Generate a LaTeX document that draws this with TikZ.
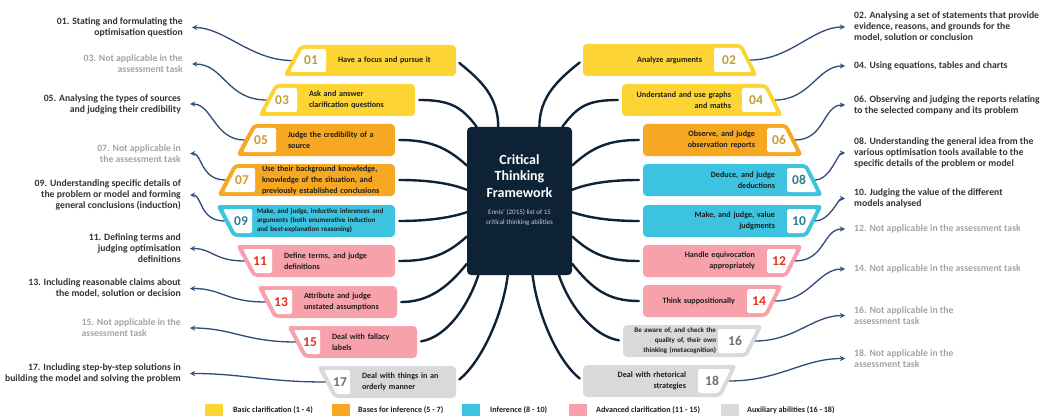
\documentclass[tikz,border=0pt]{standalone}
\usepackage{fontspec}
\setmainfont{Carlito}
\usetikzlibrary{arrows}

\definecolor{navy}{HTML}{0E2236}
\definecolor{arrowblue}{HTML}{2C4A7A}
\definecolor{cbasic}{HTML}{FCD535}
\definecolor{cbases}{HTML}{F7A823}
\definecolor{cinfer}{HTML}{3CC3E0}
\definecolor{cadv}{HTML}{F7A2AA}
\definecolor{caux}{HTML}{D9D9D9}
\definecolor{nbasic}{HTML}{BFA033}
\definecolor{nbases}{HTML}{CF9A2E}
\definecolor{ninfer}{HTML}{2B7E8E}
\definecolor{nadv}{HTML}{E2321F}
\definecolor{naux}{HTML}{6E6E6E}
\definecolor{txtdark}{HTML}{1E1E1E}
\definecolor{lbldark}{HTML}{333333}
\definecolor{lblgray}{HTML}{A3A3A3}

\begin{document}
\begin{tikzpicture}[x=1pt,y=-1pt,
    spoke/.style={draw=navy,line width=2.4pt,line cap=round,shorten <=4pt},
    pointer/.style={draw=arrowblue,line width=1.3pt,-stealth,shorten >=8pt},
    lbody/.style={font=\fontsize{8.1}{10.5}\selectfont\bfseries,text=txtdark,align=left,
        inner xsep=12pt,inner ysep=0pt,minimum height=31pt},
    rbody/.style={lbody,align=right},
    num/.style={font=\fontsize{13.5}{13.5}\selectfont\bfseries,inner sep=0pt},
    lbl/.style={font=\fontsize{9.7}{11}\selectfont\bfseries,text=lbldark,inner sep=1pt},
    na/.style={lbl,text=lblgray},
    key/.style={minimum width=18pt,minimum height=12pt,inner sep=0pt},
    keytext/.style={font=\fontsize{8.1}{9}\selectfont\bfseries,text=txtdark,anchor=west,inner sep=0pt}]
    \useasboundingbox (0,0) rectangle (1046,417);

    % Centre
    \node [fill=navy,rounded corners=4pt,minimum width=105pt,minimum height=148pt] (ctf) at (519.5,201) {};
    \node [font=\fontsize{14}{16.5}\selectfont\bfseries,text=white,align=center] (ttl) at (519.5,176)
        {Critical\\Thinking\\Framework};
    \node [font=\fontsize{7}{10}\selectfont,text=navy!25,align=center] (sub) at (519.5,218)
        {Ennis' (2015) list of 15\\critical thinking abilities};

    % Left boxes
    \path [fill=cbasic,rounded corners=4pt] (283,76) -- coordinate (e01) (300,45) -- (456,45) -- (456,76) -- cycle;
    \path [fill=white,rounded corners=1.5pt] (302.5,49) -- (326,49) -- (326,72) -- (290,72) -- cycle;
    \node [num,text=nbasic] (n01) at (311,60.5) {01};
    \node [lbody,text width=106pt] (b01) at (391,60.5) {Have a focus and pursue it};

    \path [fill=cbasic,rounded corners=4pt] (258,116) -- coordinate (e03) (275,84) -- (415,84) -- (415,116) -- cycle;
    \path [fill=white,rounded corners=1.5pt] (277.5,88) -- (297,88) -- (297,112) -- (265,112) -- cycle;
    \node [num,text=nbasic] (n03) at (282,100) {03};
    \node [lbody,text width=94pt] (b03) at (356,100) {Ask and answer\\clarification questions};

    \path [fill=cbases,rounded corners=4pt] (236,156) -- coordinate (e05) (253,124) -- (395,124) -- (395,156) -- cycle;
    \path [fill=white,rounded corners=1.5pt] (255.5,128) -- (276,128) -- (276,152) -- (243,152) -- cycle;
    \node [num,text=nbases] (n05) at (261,140) {05};
    \node [lbody,text width=95pt] (b05) at (335.5,140) {Judge the credibility of a\\source};

    \path [fill=cbases,rounded corners=4pt] (217,196) -- coordinate (e07) (234,164) -- (395,164) -- (395,196) -- cycle;
    \path [fill=white,rounded corners=1.5pt] (236.5,168) -- (255,168) -- (255,192) -- (224,192) -- cycle;
    \node [num,text=nbases] (n07) at (242,180) {07};
    \node [lbody,text width=126pt,inner xsep=7pt,font=\fontsize{8.1}{11}\selectfont\bfseries] (b07) at (325,180)
        {Use their background knowledge,\\knowledge of the situation, and\\previously established conclusions};

    \path [fill=cinfer,rounded corners=4pt] (216,205) -- coordinate (e09) (233,237) -- (395,237) -- (395,205) -- cycle;
    \path [fill=white,rounded corners=1.5pt] (223,209) -- (252,209) -- (252,233) -- (235.5,233) -- cycle;
    \node [num,text=ninfer] (n09) at (241,221) {09};
    \node [lbody,text width=133pt,inner xsep=5pt,font=\fontsize{7}{9}\selectfont\bfseries] (b09) at (323.5,221)
        {Make, and judge, inductive inferences and\\arguments (both enumerative induction\\and best-explanation reasoning)};

    \path [fill=cadv,rounded corners=4pt] (236,245) -- coordinate (e11) (253,277) -- (395,277) -- (395,245) -- cycle;
    \path [fill=white,rounded corners=1.5pt] (243,249) -- (272,249) -- (272,273) -- (255.5,273) -- cycle;
    \node [num,text=nadv] (n11) at (260,261) {11};
    \node [lbody,text width=99pt] (b11) at (333.5,261) {Define terms, and judge\\definitions};

    \path [fill=cadv,rounded corners=4pt] (257,286) -- coordinate (e13) (274,318) -- (397,318) -- (397,286) -- cycle;
    \path [fill=white,rounded corners=1.5pt] (264,290) -- (292,290) -- (292,314) -- (276.5,314) -- cycle;
    \node [num,text=nadv] (n13) at (281,302) {13};
    \node [lbody,text width=81pt] (b13) at (344.5,302) {Attribute and judge\\unstated assumptions};

    \path [fill=cadv,rounded corners=4pt] (287,326) -- coordinate (e15) (304,358) -- (417,358) -- (417,326) -- cycle;
    \path [fill=white,rounded corners=1.5pt] (294,330) -- (320,330) -- (320,354) -- (306.5,354) -- cycle;
    \node [num,text=nadv] (n15) at (310,342) {15};
    \node [lbody,text width=73pt] (b15) at (368.5,342) {Deal with fallacy\\labels};

    \path [fill=caux,rounded corners=4pt] (317,366) -- coordinate (e17) (334,398) -- (456,398) -- (456,366) -- cycle;
    \path [fill=white,rounded corners=1.5pt] (324,370) -- (350,370) -- (350,394) -- (336.5,394) -- cycle;
    \node [num,text=naux] (n17) at (340,382) {17};
    \node [lbody,text width=82pt] (b17) at (403,382) {Deal with things in an\\orderly manner};

    % Right boxes
    \path [fill=cbasic,rounded corners=4pt] (583,44) -- (742,44) -- coordinate (e02) (758,76) -- (583,76) -- cycle;
    \path [fill=white,rounded corners=1.5pt] (714,48) -- (739.5,48) -- (751.5,72) -- (714,72) -- cycle;
    \node [num,text=nbasic] (n02) at (729,60) {02};
    \node [rbody,text width=107pt] (b02) at (648.5,60) {Analyze arguments};

    \path [fill=cbasic,rounded corners=4pt] (622,84) -- (767,84) -- coordinate (e04) (783,116) -- (622,116) -- cycle;
    \path [fill=white,rounded corners=1.5pt] (742,88) -- (764.5,88) -- (776.5,112) -- (742,112) -- cycle;
    \node [num,text=nbasic] (n04) at (756,100) {04};
    \node [rbody,text width=98pt,inner xsep=11pt] (b04) at (682,100) {Understand and use graphs\\and maths};

    \path [fill=cbases,rounded corners=4pt] (643,124) -- (787,124) -- coordinate (e06) (803,156) -- (643,156) -- cycle;
    \path [fill=white,rounded corners=1.5pt] (767,128) -- (784.5,128) -- (796.5,152) -- (767,152) -- cycle;
    \node [num,text=nbases] (n06) at (779,140) {06};
    \node [rbody,text width=100pt] (b06) at (705,140) {Observe, and judge\\observation reports};

    \path [fill=cinfer,rounded corners=4pt] (643,164) -- (807,164) -- coordinate (e08) (823,196) -- (643,196) -- cycle;
    \path [fill=white,rounded corners=1.5pt] (787,168) -- (804.5,168) -- (816.5,192) -- (787,192) -- cycle;
    \node [num,text=ninfer] (n08) at (799,180) {08};
    \node [rbody,text width=120pt] (b08) at (715,180) {Deduce, and judge\\deductions};

    \path [fill=cinfer,rounded corners=4pt] (643,237) -- (807,237) -- coordinate (e10) (823,205) -- (643,205) -- cycle;
    \path [fill=white,rounded corners=1.5pt] (787,209) -- (816.5,209) -- (804.5,233) -- (787,233) -- cycle;
    \node [num,text=ninfer] (n10) at (799,221) {10};
    \node [rbody,text width=120pt] (b10) at (715,221) {Make, and judge, value\\judgments};

    \path [fill=cadv,rounded corners=4pt] (643,277) -- (787,277) -- coordinate (e12) (803,245) -- (643,245) -- cycle;
    \path [fill=white,rounded corners=1.5pt] (767,249) -- (796.5,249) -- (784.5,273) -- (767,273) -- cycle;
    \node [num,text=nadv] (n12) at (779,261) {12};
    \node [rbody,text width=100pt] (b12) at (705,261) {Handle equivocation\\appropriately};

    \path [fill=cadv,rounded corners=4pt] (643,317) -- (767,317) -- coordinate (e14) (783,285) -- (643,285) -- cycle;
    \path [fill=white,rounded corners=1.5pt] (747,289) -- (776.5,289) -- (764.5,313) -- (747,313) -- cycle;
    \node [num,text=nadv] (n14) at (759,301) {14};
    \node [rbody,text width=80pt] (b14) at (695,301) {Think suppositionally};

    \path [fill=caux,rounded corners=4pt] (623,357) -- (747,357) -- coordinate (e16) (763,325) -- (623,325) -- cycle;
    \path [fill=white,rounded corners=1.5pt] (718,329) -- (756.5,329) -- (744.5,353) -- (718,353) -- cycle;
    \node [num,text=naux] (n16) at (735,341) {16};
    \node [rbody,text width=91pt,inner xsep=2pt,font=\fontsize{7}{10}\selectfont\bfseries] (b16) at (670.5,341)
        {Be aware of, and check the\\quality of, their own\\thinking (metacognition)};

    \path [fill=caux,rounded corners=4pt] (583,397) -- (721,397) -- coordinate (e18) (737,365) -- (583,365) -- cycle;
    \path [fill=white,rounded corners=1.5pt] (698,369) -- (730.5,369) -- (718.5,393) -- (698,393) -- cycle;
    \node [num,text=naux] (n18) at (712,381) {18};
    \node [rbody,text width=91pt] (b18) at (640.5,381) {Deal with rhetorical\\strategies};

    % Spokes
    \draw [spoke] (b01.east) .. controls +(25,20) and +(0,-30) .. (ctf.106);
    \draw [spoke] (b03.east) .. controls +(35,0) and +(-15,-20) .. (ctf.120);
    \draw [spoke] (b05.east) .. controls +(35,0) and +(-20,-18) .. (ctf.146);
    \draw [spoke] (b07.east) .. controls +(35,0) and +(-15,-6) .. (ctf.168);
    \draw [spoke] (b09.east) .. controls +(35,0) and +(-15,5) .. (ctf.192);
    \draw [spoke] (b11.east) .. controls +(35,0) and +(-20,18) .. (ctf.214);
    \draw [spoke] (b13.east) .. controls +(30,0) and +(-20,25) .. (ctf.230);
    \draw [spoke] (b15.east) .. controls +(30,-5) and +(-10,30) .. (ctf.241);
    \draw [spoke] (b17.east) .. controls +(25,-20) and +(-5,40) .. (ctf.261);
    \draw [spoke] (b02.west) .. controls +(-25,20) and +(0,-30) .. (ctf.75);
    \draw [spoke] (b04.west) .. controls +(-35,0) and +(15,-20) .. (ctf.60);
    \draw [spoke] (b06.west) .. controls +(-35,0) and +(20,-18) .. (ctf.34);
    \draw [spoke] (b08.west) .. controls +(-35,0) and +(15,-6) .. (ctf.12);
    \draw [spoke] (b10.west) .. controls +(-35,0) and +(15,5) .. (ctf.348);
    \draw [spoke] (b12.west) .. controls +(-35,0) and +(20,18) .. (ctf.326);
    \draw [spoke] (b14.west) .. controls +(-35,0) and +(20,25) .. (ctf.310);
    \draw [spoke] (b16.west) .. controls +(-30,-5) and +(10,30) .. (ctf.298);
    \draw [spoke] (b18.west) .. controls +(-25,-20) and +(5,40) .. (ctf.280);

    % Left labels
    \node [lbl,anchor=east,align=right] (l01) at (184,27.5) {01. Stating and formulating the\\optimisation question};
    \node [na,anchor=east,align=right] (l03) at (184,64) {03. Not applicable in the\\assessment task};
    \node [lbl,anchor=east,align=right] (l05) at (182,104) {05. Analysing the types of sources\\and judging their credibility};
    \node [na,anchor=east,align=right] (l07) at (182,153.5) {07. Not applicable in\\the assessment task};
    \node [lbl,anchor=east,align=right] (l09) at (182,195)
        {09. Understanding specific details of\\the problem or model and forming\\general conclusions (induction)};
    \node [lbl,anchor=east,align=right] (l11) at (182,248.5) {11. Defining terms and\\judging optimisation\\definitions};
    \node [lbl,anchor=east,align=right] (l13) at (182,288.5)
        {13. Including reasonable claims about\\the model, solution or decision};
    \node [na,anchor=east,align=left] (l15) at (182,328) {15. Not applicable in the\\assessment task};
    \node [lbl,anchor=east,align=right] (l17) at (182,373.5)
        {17. Including step-by-step solutions in\\building the model and solving the problem};

    % Right labels
    \node [lbl,anchor=west,align=left] (l02) at (853,27)
        {02. Analysing a set of statements that provide\\evidence, reasons, and grounds for the\\model, solution or conclusion};
    \node [lbl,anchor=west,align=left] (l04) at (853,66) {04. Using equations, tables and charts};
    \node [lbl,anchor=west,align=left] (l06) at (853,105)
        {06. Observing and judging the reports relating\\to the selected company and its problem};
    \node [lbl,anchor=west,align=left] (l08) at (853,153)
        {08. Understanding the general idea from the\\various optimisation tools available to the\\specific details of the problem or model};
    \node [lbl,anchor=west,align=left] (l10) at (853,198.5) {10. Judging the value of the different\\models analysed};
    \node [na,anchor=west,align=left] (l12) at (853,229) {12. Not applicable in the assessment task};
    \node [na,anchor=west,align=left] (l14) at (853,269) {14. Not applicable in the assessment task};
    \node [na,anchor=west,align=left] (l16) at (853,315.5) {16. Not applicable in the\\assessment task};
    \node [na,anchor=west,align=left] (l18) at (853,358.5) {18. Not applicable in the\\assessment task};

    % Pointers
    \draw [pointer] (e01) .. controls +(-40,0) and +(40,0) .. (l01.east);
    \draw [pointer] (e03) .. controls +(-40,0) and +(40,0) .. (l03.east);
    \draw [pointer] (e05) .. controls +(-30,0) and +(30,0) .. (l05.east);
    \draw [pointer] (e07) .. controls +(-25,0) and +(20,0) .. (l07.east);
    \draw [pointer] (e09) .. controls +(-25,0) and +(20,0) .. (l09.east);
    \draw [pointer] (e11) .. controls +(-30,0) and +(30,0) .. (l11.east);
    \draw [pointer] (e13) .. controls +(-40,0) and +(40,0) .. (l13.east);
    \draw [pointer] (e15) .. controls +(-50,0) and +(50,0) .. (l15.east);
    \draw [pointer] (e17) .. controls +(-60,0) and +(60,0) .. (l17.east);
    \draw [pointer] (e02) .. controls +(40,0) and +(-40,0) .. (l02.west);
    \draw [pointer] (e04) .. controls +(35,0) and +(-35,0) .. (l04.west);
    \draw [pointer] (e06) .. controls +(30,0) and +(-30,0) .. (l06.west);
    \draw [pointer] (e08) .. controls +(15,0) and +(-15,0) .. (l08.west);
    \draw [pointer] (e10) .. controls +(15,0) and +(-15,0) .. (l10.west);
    \draw [pointer] (e12) .. controls +(30,0) and +(-30,0) .. (l12.west);
    \draw [pointer] (e14) .. controls +(35,0) and +(-35,0) .. (l14.west);
    \draw [pointer] (e16) .. controls +(40,0) and +(-40,0) .. (l16.west);
    \draw [pointer] (e18) .. controls +(50,0) and +(-50,0) .. (l18.west);

    % Legend
    \node [key,fill=cbasic] (k1) at (214,410) {};
    \node [keytext] (t1) at (233,410) {Basic clarification (1 - 4)};
    \node [key,fill=cbases] (k2) at (341,410) {};
    \node [keytext] (t2) at (358,410) {Bases for inference (5 - 7)};
    \node [key,fill=cinfer] (k3) at (471,410) {};
    \node [keytext] (t3) at (490,410) {Inference (8 - 10)};
    \node [key,fill=cadv] (k4) at (577.5,410) {};
    \node [keytext] (t4) at (596,410) {Advanced clarification (11 - 15)};
    \node [key,fill=caux] (k5) at (730,410) {};
    \node [keytext] (t5) at (747,410) {Auxiliary abilities (16 - 18)};
\end{tikzpicture}
\end{document}
